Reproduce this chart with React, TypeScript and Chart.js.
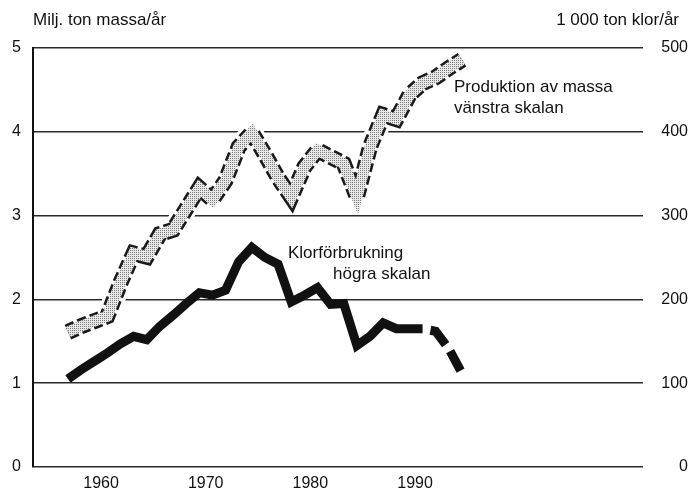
import React, { useEffect, useRef } from "react";
import { Chart, registerables } from "chart.js";

Chart.register(...registerables);

// ---- data ----
const years = [
  1960, 1961, 1962, 1963, 1964, 1965, 1966, 1967, 1968, 1969,
  1970, 1971, 1972, 1973, 1974, 1975, 1976, 1977, 1978, 1979,
  1980, 1981, 1982, 1983, 1984, 1985, 1986, 1987, 1988, 1989, 1990,
];
// Produktion av massa, milj. ton/år (vänstra skalan)
const pulpProduction = [
  1.61, 1.68, 1.74, 1.8, 2.2, 2.55, 2.51, 2.78, 2.83, 3.08,
  3.33, 3.19, 3.42, 3.82, 3.99, 3.73, 3.45, 3.22, 3.58, 3.78,
  3.7, 3.62, 3.22, 3.82, 4.2, 4.15, 4.44, 4.58, 4.65, 4.76, 4.86,
];
// Klorförbrukning, 1 000 ton/år (högra skalan)
const chlorineUse = [
  105, 116, 126, 136, 147, 156, 152, 168, 181, 195,
  208, 205, 211, 245, 262, 250, 242, 197, 205, 214,
  194, 195, 145, 156, 172, 165, 165, 165, 162, 141, 112,
];
const forecastFrom = 1987;
const xTickYears = [1960, 1970, 1980, 1990];
const leftTicks = [0, 1, 2, 3, 4, 5];
const rightTicks = [0, 100, 200, 300, 400, 500];

const leftTitle = "Milj. ton massa/år";
const rightTitle = "1 000 ton klor/år";
const pulpLabel = ["Produktion av massa", "vänstra skalan"];
const chlorineLabel = ["Klorförbrukning", "högra skalan"];

const FONT = '"Liberation Sans", Arial, Helvetica, sans-serif';

function makeStipple(): CanvasPattern | string {
  const c = document.createElement("canvas");
  c.width = 2;
  c.height = 2;
  const g = c.getContext("2d");
  if (!g) return "#c4c4c4";
  g.fillStyle = "#e8e8e8";
  g.fillRect(0, 0, 2, 2);
  g.fillStyle = "#7c7c7c";
  g.fillRect(0, 0, 1, 1);
  const p = g.createPattern(c, "repeat");
  return p || "#c4c4c4";
}

const textPlugin = {
  id: "chartTexts",
  afterDraw(chart: any) {
    const ctx = chart.ctx as CanvasRenderingContext2D;
    ctx.save();
    ctx.fillStyle = "#111";
    ctx.font = `17px ${FONT}`;
    ctx.textBaseline = "alphabetic";
    ctx.textAlign = "left";
    ctx.fillText(leftTitle, 33, 25);
    ctx.textAlign = "right";
    ctx.fillText(rightTitle, 679, 25);
    ctx.textAlign = "left";
    ctx.fillText(pulpLabel[0], 454, 92);
    ctx.fillText(pulpLabel[1], 454, 113);
    ctx.fillText(chlorineLabel[0], 288, 258);
    ctx.fillText(chlorineLabel[1], 333, 279);
    ctx.restore();
  },
};

export default function App() {
  const canvasRef = useRef<HTMLCanvasElement | null>(null);

  useEffect(() => {
    const canvas = canvasRef.current;
    if (!canvas) return;
    const stipple = makeStipple();
    const pulpPoints = years.map((y, i) => ({ x: y, y: pulpProduction[i] }));
    const chlorinePoints = years.map((y, i) => ({ x: y, y: chlorineUse[i] }));

    const chart = new Chart(canvas, {
      type: "line",
      data: {
        datasets: [
          {
            label: "Klorförbrukning",
            data: chlorinePoints,
            xAxisID: "x",
            yAxisID: "y1",
            borderColor: "#111",
            borderWidth: 9,
            borderJoinStyle: "miter",
            borderCapStyle: "butt",
            pointRadius: 0,
            tension: 0,
            order: 0,
            segment: {
              borderDash: (c: any) => (c.p0.parsed.x >= forecastFrom ? [22, 8] : undefined),
              borderDashOffset: (c: any) => (c.p0.parsed.x >= forecastFrom ? 22 : 0),
            },
          } as any,
          {
            label: "Produktion av massa",
            data: pulpPoints,
            xAxisID: "x",
            yAxisID: "y",
            borderColor: stipple as any,
            borderWidth: 11,
            borderJoinStyle: "miter",
            borderCapStyle: "butt",
            pointRadius: 0,
            tension: 0,
            order: 1,
          },
          {
            label: "outline",
            data: pulpPoints,
            xAxisID: "x",
            yAxisID: "y",
            borderColor: "#1a1a1a",
            borderWidth: 16,
            borderDash: [9, 4],
            borderJoinStyle: "miter",
            borderCapStyle: "butt",
            pointRadius: 0,
            tension: 0,
            order: 2,
          },
          {
            label: "halo",
            data: pulpPoints,
            xAxisID: "x",
            yAxisID: "y",
            borderColor: "#ffffff",
            borderWidth: 22,
            borderJoinStyle: "round",
            borderCapStyle: "butt",
            pointRadius: 0,
            tension: 0,
            order: 3,
          },
        ],
      },
      options: {
        responsive: false,
        animation: false,
        devicePixelRatio: 1,
        layout: { padding: { top: 48, left: 0, right: 4, bottom: 0 } },
        plugins: {
          legend: { display: false },
          tooltip: { enabled: false },
          title: { display: false },
        },
        scales: {
          x: {
            type: "linear",
            display: false,
            min: 1957.34,
            max: 2003.78,
          },
          xLabels: {
            type: "linear",
            position: "bottom",
            min: 1953.5,
            max: 2011.78,
            afterBuildTicks: (s: any) => {
              s.ticks = xTickYears.map((v) => ({ value: v }));
            },
            afterFit: (s: any) => {
              s.height = 23;
            },
            grid: { display: false, drawTicks: false },
            border: { display: false },
            ticks: {
              autoSkip: false,
              maxRotation: 0,
              padding: 7,
              color: "#111",
              font: { family: FONT, size: 16 },
              callback: (v: any) => String(v),
            },
          },
          y: {
            type: "linear",
            position: "left",
            min: 0,
            max: 5,
            afterBuildTicks: (s: any) => {
              s.ticks = leftTicks.map((v) => ({ value: v }));
            },
            afterFit: (s: any) => {
              s.width = 33;
            },
            grid: { color: "#2a2a2a", lineWidth: 1.5, drawTicks: false },
            border: { display: true, color: "#111", width: 2 },
            ticks: {
              padding: 12,
              color: "#111",
              font: { family: FONT, size: 16 },
              callback: (v: any) => String(v),
            },
          },
          y1: {
            type: "linear",
            position: "right",
            min: 0,
            max: 500,
            afterBuildTicks: (s: any) => {
              s.ticks = rightTicks.map((v) => ({ value: v }));
            },
            afterFit: (s: any) => {
              s.width = 45;
            },
            grid: { display: false, drawTicks: false },
            border: { display: false },
            ticks: {
              crossAlign: "far",
              padding: 12,
              color: "#111",
              font: { family: FONT, size: 16 },
              callback: (v: any) => String(v),
            },
          },
        },
      } as any,
      plugins: [textPlugin],
    });

    return () => {
      chart.destroy();
    };
  }, []);

  return (
    <div style={{ position: "absolute", left: 0, top: 0, width: 692, height: 490, background: "#fff" }}>
      <canvas ref={canvasRef} width={692} height={490} style={{ width: 692, height: 490, display: "block" }} />
    </div>
  );
}
